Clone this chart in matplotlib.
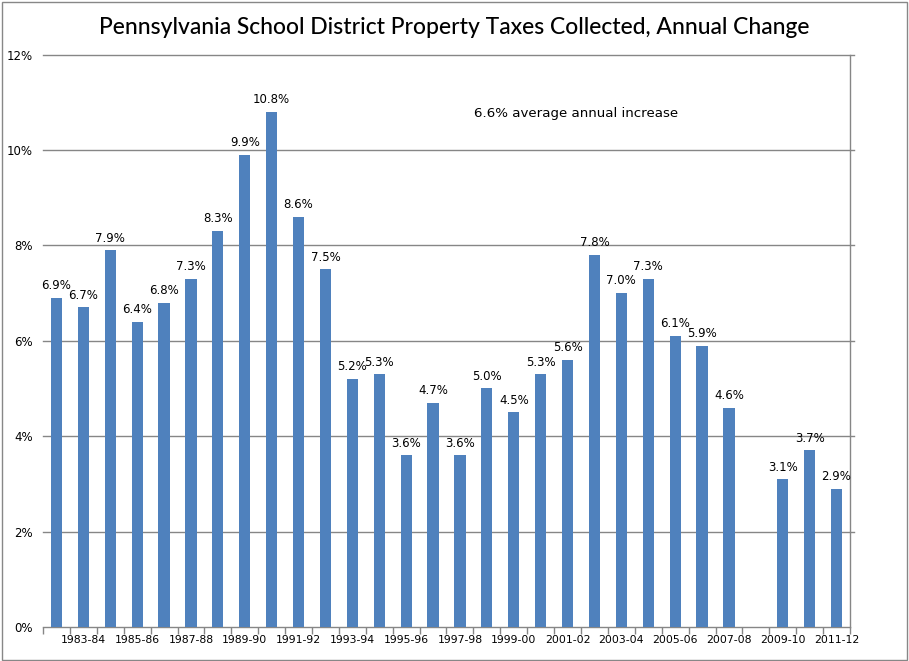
import matplotlib
matplotlib.use("Agg")
import matplotlib.pyplot as plt
import numpy as np
from matplotlib.patches import Rectangle

years = ["1982-83", "1983-84", "1984-85", "1985-86", "1986-87", "1987-88", "1988-89",
         "1989-90", "1990-91", "1991-92", "1992-93", "1993-94", "1994-95", "1995-96",
         "1996-97", "1997-98", "1998-99", "1999-00", "2000-01", "2001-02", "2002-03",
         "2003-04", "2004-05", "2005-06", "2006-07", "2007-08", "2008-09", "2009-10",
         "2010-11", "2011-12"]
changes = [6.9, 6.7, 7.9, 6.4, 6.8, 7.3, 8.3, 9.9, 10.8, 8.6, 7.5, 5.2, 5.3, 3.6,
           4.7, 3.6, 5.0, 4.5, 5.3, 5.6, 7.8, 7.0, 7.3, 6.1, 5.9, 4.6, np.nan, 3.1,
           3.7, 2.9]
y_ticks = [0, 2, 4, 6, 8, 10, 12]
title = "Pennsylvania School District Property Taxes Collected, Annual Change"
note = "6.6% average annual increase"

W, H = 909, 661
fig = plt.figure(figsize=(W / 100, H / 100), dpi=100)
fig.patch.set_facecolor("white")
fig.patches.append(Rectangle((1.5 / W, 1.5 / H), 1 - 3.5 / W, 1 - 3.5 / H,
                             transform=fig.transFigure, fill=False,
                             edgecolor="#878787", linewidth=1.0))

left, right, top, bottom = 43, 850, 54.5, 627
ax = fig.add_axes([left / W, 1 - bottom / H, (right - left) / W, (bottom - top) / H])

x = np.arange(len(years))
bar_color = "#4F81BD"
vals = np.array(changes, dtype=float)
ax.bar(x, np.nan_to_num(vals), width=0.42, color=bar_color, zorder=3)

for xi, v in zip(x, vals):
    if np.isnan(v):
        continue
    ax.annotate(f"{v:.1f}%", (xi, v), xytext=(0, 4), textcoords="offset points",
                ha="center", va="bottom", fontsize=8.5, family="DejaVu Sans",
                color="#000000")

ax.set_xlim(-0.5, len(years) - 0.5)
ax.set_ylim(0, 12)
ax.set_yticks(y_ticks)
ax.set_yticklabels([f"{t}%" for t in y_ticks], fontsize=8.5, family="DejaVu Sans")
ax.tick_params(axis="y", length=0, pad=7.5)
for t in y_ticks[1:]:
    ax.axhline(t, color="#868686", linewidth=1.0, zorder=1, xmax=1.005, clip_on=False)

# x-axis: labels at every other category, tick marks at boundaries
label_pos = x[1::2]
ax.set_xticks(label_pos)
ax.set_xticklabels([years[i] for i in label_pos], fontsize=7.8, family="DejaVu Sans")
ax.tick_params(axis="x", length=0, pad=6)
ax.set_xticks(np.arange(-0.5, len(years), 1), minor=True)
ax.tick_params(axis="x", which="minor", length=5, color="#868686", width=1.0)

for s in ["left", "top"]:
    ax.spines[s].set_visible(False)
ax.spines["bottom"].set_color("#868686")
ax.spines["right"].set_color("#868686")
ax.spines["bottom"].set_linewidth(1.0)
ax.spines["right"].set_linewidth(1.0)

ax.text(0.66, 0.897, note, transform=ax.transAxes, ha="center", va="center",
        fontsize=9.6, family="DejaVu Sans")

fig.text(0.5, 1 - 27 / H, title, ha="center", va="center", fontsize=16.5,
         family="Lato", fontweight="medium")

fig.savefig("out.png", dpi=100)
